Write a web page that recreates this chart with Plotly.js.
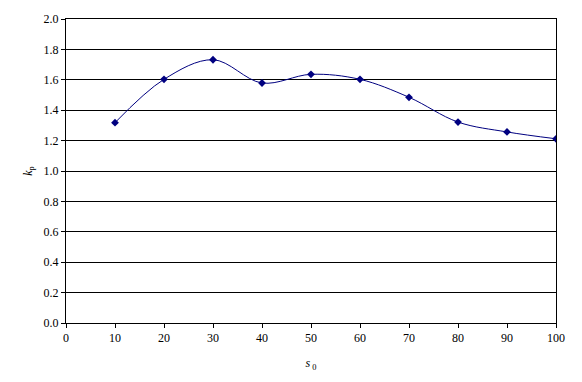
<!DOCTYPE html>
<html>
<head>
<meta charset="utf-8">
<script src="https://cdn.plot.ly/plotly-3.0.1.min.js"></script>
<style>html,body{margin:0;padding:0;background:#fff}#chart{width:582px;height:382px}</style>
</head>
<body>
<div id="chart"></div>
<script>
var s0 = [10, 20, 30, 40, 50, 60, 70, 80, 90, 100];
var kp = [1.318, 1.603, 1.732, 1.579, 1.636, 1.603, 1.485, 1.322, 1.257, 1.212];
var xTicks = [0, 10, 20, 30, 40, 50, 60, 70, 80, 90, 100];
var yTicks = [0, 0.2, 0.4, 0.6, 0.8, 1.0, 1.2, 1.4, 1.6, 1.8, 2.0];
var yTickText = yTicks.map(function (v) { return v.toFixed(1); });

var font = {family: 'Liberation Serif, Times New Roman, serif', size: 12, color: '#000'};

Plotly.newPlot('chart', [{
  x: s0, y: kp,
  type: 'scatter', mode: 'lines+markers',
  line: {shape: 'spline', smoothing: 1, color: '#000080', width: 1},
  marker: {symbol: 'diamond', size: 6, color: '#000080'}
}], {
  width: 582, height: 382,
  margin: {l: 66, r: 26, t: 19, b: 59},
  paper_bgcolor: '#fff', plot_bgcolor: '#fff',
  showlegend: false,
  font: font,
  xaxis: {
    range: [0, 100], tickvals: xTicks, ticktext: xTicks.map(String),
    showgrid: false, zeroline: false,
    showline: true, linecolor: '#000', linewidth: 1, mirror: true,
    ticks: 'outside', ticklen: 4, tickcolor: '#000',
    tickfont: font,
    title: {text: '<i>s</i><sub> 0</sub>', font: font, standoff: 14}
  },
  yaxis: {
    range: [0, 2.0], tickvals: yTicks, ticktext: yTickText,
    showgrid: true, gridcolor: '#000', gridwidth: 1, zeroline: false,
    showline: true, linecolor: '#000', linewidth: 1, mirror: true,
    ticks: 'outside', ticklen: 4, tickcolor: '#000',
    tickfont: font,
    title: {text: '<i>k</i><sub>p</sub>', font: font, standoff: 8}
  }
}, {displayModeBar: false, staticPlot: true});
</script>
</body>
</html>
